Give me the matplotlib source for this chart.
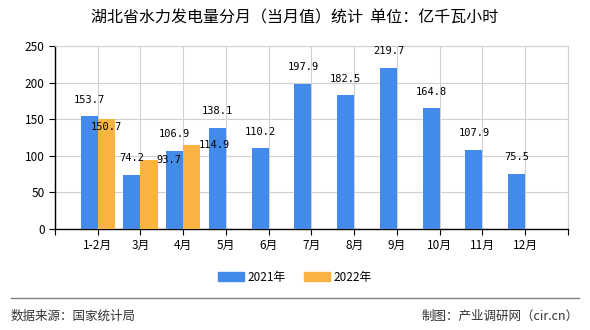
import numpy as np
import matplotlib
matplotlib.use("Agg")
import matplotlib.pyplot as plt
from matplotlib.patches import Patch
from matplotlib.lines import Line2D

plt.rcParams['font.family'] = ['Noto Sans CJK SC', 'DejaVu Sans']

months = ["1-2月", "3月", "4月", "5月", "6月", "7月", "8月", "9月", "10月", "11月", "12月"]
v2021 = [153.7, 74.2, 106.9, 138.1, 110.2, 197.9, 182.5, 219.7, 164.8, 107.9, 75.5]
v2022 = [150.7, 93.7, 114.9]

blue = "#428BEB"
orange = "#FAB240"

fig = plt.figure(figsize=(5.9, 3.3), dpi=100)
ax = fig.add_axes([0.0932, 0.306, 0.8695, 0.555])

x = np.arange(len(months))
w = 0.4
ax.bar(x - w / 2, v2021, w, color=blue, zorder=3)
x2 = np.arange(len(v2022))
ax.bar(x2 + w / 2, v2022, w, color=orange, zorder=3)

# value labels
for xi, v in zip(x, v2021):
    ax.annotate(f"{v:.1f}", (xi - w / 2, v), xytext=(0, 12), textcoords="offset points",
                ha="center", va="center", fontsize=7.5, family="DejaVu Sans Mono", zorder=4)
# the 2022 labels sit a bit off to the right in the original
lab_dx = [0, 14, 16]
lab_dy = [-6, 0, 0]
for xi, v, dx, dy in zip(x2, v2022, lab_dx, lab_dy):
    ax.annotate(f"{v:.1f}", (xi + w / 2, v), xytext=(dx, dy), textcoords="offset points",
                ha="center", va="center", fontsize=7.5, family="DejaVu Sans Mono", zorder=4)

ax.set_xlim(-1, len(months))
ax.set_ylim(0, 250)
ax.set_yticks([0, 50, 100, 150, 200, 250])
ax.set_xticks(np.arange(-1, len(months) + 1))
ax.set_xticklabels([""] + months + [""])
ax.tick_params(axis="both", labelsize=8.5, length=4, width=0.8, colors="black")
ax.grid(True, color="#d0d0d0", linewidth=0.8, zorder=0)
for s in ["top", "right"]:
    ax.spines[s].set_color("#d0d0d0")
for s in ["left", "bottom"]:
    ax.spines[s].set_color("black")
    ax.spines[s].set_linewidth(1.0)

fig.text(0.5, 1 - 18 / 330, "湖北省水力发电量分月（当月值）统计  单位：亿千瓦小时",
         ha="center", va="center", fontsize=11.5)

handles = [Patch(color=blue), Patch(color=orange)]
fig.legend(handles, ["2021年", "2022年"], loc="center", bbox_to_anchor=(0.5, 1 - 277 / 330),
           ncol=2, frameon=False, fontsize=8.5, handlelength=2.2, handleheight=0.8,
           columnspacing=1.5, handletextpad=0.3)

fig.add_artist(Line2D([11 / 590, 579 / 590], [1 - 298 / 330] * 2, color="#808080", linewidth=1))
fig.text(11 / 590, 1 - 316 / 330, "数据来源：国家统计局", ha="left", va="center", fontsize=9, color="#333333")
fig.text(579 / 590, 1 - 316 / 330, "制图：产业调研网（cir.cn）", ha="right", va="center", fontsize=9, color="#333333")

fig.savefig("out.png", dpi=100)
